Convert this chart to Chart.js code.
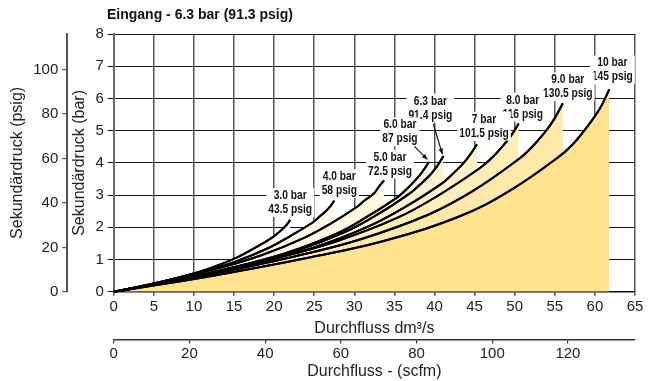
<!DOCTYPE html>
<html>
<head>
<meta charset="utf-8">
<script src="https://cdn.jsdelivr.net/npm/chart.js@4/dist/chart.umd.min.js"></script>
<style>
  html, body { margin: 0; padding: 0; background: #ffffff; }
  canvas { display: block; }
</style>
</head>
<body>
<canvas id="chart" width="657" height="381"></canvas>
<script>
// Pressure drop (bar) against flow (dm³/s) for each supply pressure curve.
const curveBar  = ['10 bar', '9.0 bar', '8.0 bar', '7 bar', '6.3 bar', '6.0 bar', '5.0 bar', '4.0 bar', '3.0 bar'];
const curvePsig = ['145 psig', '130.5 psig', '116 psig', '101.5 psig', '91.4 psig', '87 psig', '72.5 psig', '58 psig', '43.5 psig'];

const flow10  = [0, 12.4, 24.7, 34.0, 43.3, 49.4, 55.6, 57.5, 59.3, 60.6, 61.8];
const drop10  = [0, 0.50, 1.08, 1.60, 2.36, 3.14, 4.21, 4.65, 5.21, 5.68, 6.28];
const flow9   = [0, 11.2, 22.4, 30.8, 39.2, 44.8, 50.4, 52.1, 53.8, 54.9, 56.0];
const drop9   = [0, 0.50, 1.09, 1.63, 2.39, 3.13, 4.10, 4.48, 4.96, 5.35, 5.85];
const flow8   = [0, 10.1, 20.2, 27.8, 35.4, 40.4, 45.5, 47.0, 48.5, 49.5, 50.5];
const drop8   = [0, 0.47, 1.04, 1.57, 2.30, 2.98, 3.81, 4.12, 4.52, 4.83, 5.22];
const flow7   = [0, 9.1, 18.1, 24.9, 31.7, 36.2, 40.8, 42.1, 43.5, 44.4, 45.3];
const drop7   = [0, 0.41, 0.92, 1.37, 2.02, 2.61, 3.34, 3.62, 3.96, 4.24, 4.58];
const flow63  = [0, 8.2, 16.4, 22.6, 28.8, 32.9, 37.0, 38.2, 39.5, 40.3, 41.1];
const drop63  = [0, 0.38, 0.84, 1.26, 1.85, 2.40, 3.07, 3.33, 3.64, 3.89, 4.21];
const flow6   = [0, 7.9, 15.7, 21.6, 27.5, 31.4, 35.4, 36.5, 37.7, 38.5, 39.3];
const drop6   = [0, 0.36, 0.81, 1.21, 1.77, 2.30, 2.94, 3.18, 3.49, 3.73, 4.03];
const flow5   = [0, 6.7, 13.5, 18.5, 23.6, 27.0, 30.3, 31.3, 32.4, 33.0, 33.7];
const drop5   = [0, 0.35, 0.76, 1.14, 1.66, 2.11, 2.63, 2.84, 3.04, 3.24, 3.46];
const flow4   = [0, 5.5, 11.0, 15.1, 19.3, 22.0, 24.8, 25.6, 26.4, 27.0, 27.5];
const drop4   = [0, 0.28, 0.62, 0.93, 1.36, 1.73, 2.15, 2.32, 2.49, 2.65, 2.83];
const flow3   = [0, 4.4, 8.8, 12.1, 15.4, 17.6, 19.8, 20.5, 21.1, 21.6, 22.0];
const drop3   = [0, 0.22, 0.49, 0.74, 1.07, 1.36, 1.69, 1.83, 1.96, 2.09, 2.23];

// Axis tick values
const barTicks  = [0, 1, 2, 3, 4, 5, 6, 7, 8];
const psigTicks = [0, 20, 40, 60, 80, 100];
const flowTicks = [0, 5, 10, 15, 20, 25, 30, 35, 40, 45, 50, 55, 60, 65];
const scfmTicks = [0, 20, 40, 60, 80, 100, 120];

// Unit conversions for the secondary axes
const PSIG_PER_BAR = 14.5038;
const SCFM_PER_DM3S = 2.1189;

const flows = [flow10, flow9, flow8, flow7, flow63, flow6, flow5, flow4, flow3];
const drops = [drop10, drop9, drop8, drop7, drop63, drop6, drop5, drop4, drop3];

// Band shading, from the lowest band upwards
const bandColors = ['#ffe38f', '#ffe9a8', '#ffedb9', '#fff0c7', '#fff2d1', '#fff4d9', '#fff6e1', '#fff8e9', '#fffaf0'];

// Label placement relative to each curve's end point (pixels)
const labelPlace = [
  { dx: 3,   dy: -26.5 },
  { dx: 5,   dy: -23.5 },
  { dx: 4,   dy: -23.5 },
  { dx: 7,   dy: -25 },
  { dx: -13, dy: -55, arrow: [-10, -32, -1, -2] },
  { dx: -29, dy: -37, arrow: [-14.5, -15.5, -1.5, -2.5] },
  { dx: 6,   dy: -23 },
  { dx: 5,   dy: -24 },
  { dx: 0,   dy: -24.5 }
];

const FONT = "'Liberation Sans', Arial, Helvetica, sans-serif";
const LABEL_FONT = "bold 12.5px 'Liberation Sans', Arial, sans-serif";
const LABEL_SQUEEZE = 0.82;

const datasets = flows.map((fx, i) => ({
  label: curveBar[i],
  data: fx.map((x, j) => ({ x: x, y: drops[i][j] })),
  borderColor: '#000000',
  borderWidth: 2,
  pointRadius: 0,
  tension: 0.4,
  fill: i === 0 ? 'origin' : '-1',
  backgroundColor: bandColors[i]
}));

const tickList = (vals) => (scale) => { scale.ticks = vals.map(v => ({ value: v })); };

const curveLabels = {
  id: 'curveLabels',
  afterDraw(chart) {
    const ctx = chart.ctx;
    const xs = chart.scales.x, ys = chart.scales.y;
    // curves on top of the grid
    chart.getSortedVisibleDatasetMetas().forEach(m => {
      ctx.save();
      m.dataset.options.fill = false;
      m.dataset.draw(ctx, chart.chartArea);
      ctx.restore();
    });
    flows.forEach((fx, i) => {
      const n = fx.length - 1;
      const ex = xs.getPixelForValue(fx[n]);
      const ey = ys.getPixelForValue(drops[i][n]);
      const p = labelPlace[i];
      const cx = ex + p.dx, cy1 = ey + p.dy, cy2 = cy1 + 14;
      ctx.save();
      ctx.font = LABEL_FONT;
      const w = (Math.max(ctx.measureText(curveBar[i]).width, ctx.measureText(curvePsig[i]).width)) * LABEL_SQUEEZE + 4;
      ctx.fillStyle = '#ffffff';
      ctx.fillRect(cx - w / 2, cy1 - 7.5, w, 29);
      ctx.translate(cx, 0);
      ctx.scale(LABEL_SQUEEZE, 1);
      ctx.textAlign = 'center';
      ctx.textBaseline = 'middle';
      ctx.fillStyle = '#111111';
      ctx.fillText(curveBar[i], 0, cy1);
      ctx.fillText(curvePsig[i], 0, cy2);
      ctx.restore();
      if (p.arrow) {
        const [x0, y0, x1, y1] = p.arrow;
        const ax = ex + x0, ay = ey + y0, bx = ex + x1, by = ey + y1;
        ctx.save();
        ctx.strokeStyle = '#111111';
        ctx.fillStyle = '#111111';
        ctx.lineWidth = 1.2;
        ctx.beginPath();
        ctx.moveTo(ax, ay);
        ctx.lineTo(bx, by);
        ctx.stroke();
        const ang = Math.atan2(by - ay, bx - ax);
        ctx.beginPath();
        ctx.moveTo(bx, by);
        ctx.lineTo(bx - 6 * Math.cos(ang - 0.4), by - 6 * Math.sin(ang - 0.4));
        ctx.lineTo(bx - 6 * Math.cos(ang + 0.4), by - 6 * Math.sin(ang + 0.4));
        ctx.closePath();
        ctx.fill();
        ctx.restore();
      }
    });
    // heading
    ctx.save();
    ctx.font = "bold 14px " + FONT;
    ctx.textAlign = 'left';
    ctx.textBaseline = 'middle';
    ctx.fillStyle = '#111111';
    ctx.fillText('Eingang - 6.3 bar (91.3 psig)', 107, 15);
    ctx.restore();
  }
};

const tickFont = { family: FONT, size: 15, lineHeight: 1.1 };
const titleFont = { family: FONT, size: 16, lineHeight: 1.2 };

new Chart(document.getElementById('chart'), {
  type: 'line',
  data: { datasets },
  options: {
    responsive: false,
    animation: false,
    devicePixelRatio: 1,
    layout: { padding: { top: 34, right: 22, left: 0, bottom: 0 } },
    plugins: {
      legend: { display: false },
      tooltip: { enabled: false },
      filler: { drawTime: 'beforeDatasetsDraw' }
    },
    scales: {
      x: {
        type: 'linear', position: 'bottom', min: 0, max: 65, z: 1,
        afterBuildTicks: tickList(flowTicks),
        ticks: { font: tickFont, color: '#222', padding: 3, maxRotation: 0, autoSkip: false },
        grid: { color: '#555555', lineWidth: 1.5, tickLength: 4 },
        border: { color: '#111111', width: 1.5 },
        title: { display: true, text: 'Durchfluss dm³/s', font: titleFont, color: '#222', padding: { top: 1, bottom: 1 } }
      },
      x2: {
        type: 'linear', position: 'bottom', weight: 1, min: 0, max: 65 * SCFM_PER_DM3S,
        afterBuildTicks: tickList(scfmTicks),
        ticks: { font: tickFont, color: '#222', padding: 2, maxRotation: 0, autoSkip: false },
        grid: { drawOnChartArea: false, color: '#333333', lineWidth: 1.2, tickLength: 4 },
        border: { color: '#333333', width: 1.5 },
        title: { display: true, text: 'Durchfluss - (scfm)', font: { family: FONT, size: 16, lineHeight: 1 }, color: '#222', padding: { top: 0, bottom: 1 } }
      },
      y: {
        type: 'linear', position: 'left', min: 0, max: 8, z: 1,
        afterBuildTicks: tickList(barTicks),
        ticks: { font: tickFont, color: '#222', padding: 4 },
        grid: { color: '#111111', lineWidth: 1, tickLength: 6 },
        border: { color: '#666666', width: 2 },
        title: { display: true, text: 'Sekundärdruck (bar)', font: titleFont, color: '#222', padding: { top: 3, bottom: 2 } }
      },
      y2: {
        type: 'linear', position: 'left', weight: 1, min: 0, max: 8 * PSIG_PER_BAR,
        afterBuildTicks: tickList(psigTicks),
        ticks: { font: tickFont, color: '#222', padding: 4 },
        grid: { drawOnChartArea: false, color: '#555555', lineWidth: 1.2, tickLength: 5 },
        border: { color: '#555555', width: 2 },
        title: { display: true, text: 'Sekundärdruck (psig)', font: titleFont, color: '#222', padding: { top: 8, bottom: 2 } }
      }
    }
  },
  plugins: [curveLabels]
});
</script>
</body>
</html>
